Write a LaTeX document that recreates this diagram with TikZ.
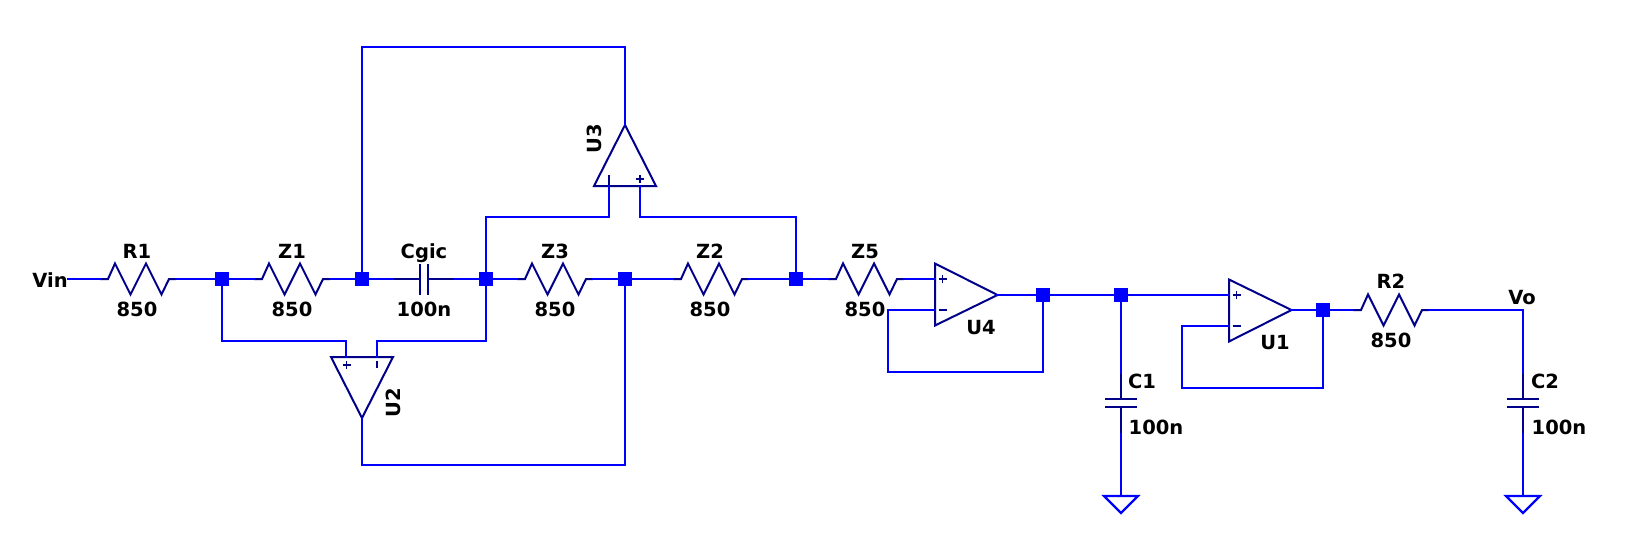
\documentclass[tikz,border=0pt]{standalone}
\usepackage{fontspec}
\setmainfont{DejaVu Sans}
\definecolor{wireblue}{RGB}{0,0,255}
\definecolor{partblue}{RGB}{0,0,139}
\tikzset{
  wire/.style={draw=wireblue,line width=2.2pt,line cap=rect},
  part/.style={draw=partblue,line width=2pt,line join=miter},
  sign/.style={draw=partblue,line width=1.8pt},
  junc/.style={rectangle,fill=wireblue,draw=none,minimum size=13.5pt,inner sep=0pt},
  lbl/.style={font=\bfseries\fontsize{19.5pt}{20pt}\selectfont,text=black,inner sep=0pt,text height=14.5pt,text depth=0pt},
}
% horizontal resistor: name, x of left lead end, y
\newcommand{\resH}[3]{%
  \coordinate (#1l) at (#2,#3);
  \coordinate (#1r) at (#2+76,#3);
  \draw[part] (#1l) -- ++(8,0) -- ++(7,-15.5) -- ++(15.5,31) -- ++(15.5,-31) -- ++(15.5,31) -- ++(7.5,-15.5) -- (#1r);
}
% horizontal op-amp: name, x of left edge, y of plus input, y of output
\newcommand{\opampR}[4]{%
  \coordinate (#1p) at (#2,#3);
  \coordinate (#1m) at (#2,#3+31);
  \coordinate (#1o) at (#2+62.5,#4);
  \draw[part] (#2,#3-15.5) -- (#1o) -- (#2,#3+46.5) -- cycle;
  \draw[sign] (#2+3.5,#3) -- ++(8,0) (#2+7.5,#3-4) -- ++(0,8) (#2+3.5,#3+31) -- ++(8,0);
}
% vertical capacitor: name, x, y of upper lead end
\newcommand{\capV}[3]{%
  \coordinate (#1t) at (#2,#3);
  \coordinate (#1b) at (#2,#3+61);
  \draw[part] (#1t) -- ++(0,26) (#2-16,#3+26) -- ++(32,0) (#2-16,#3+34) -- ++(32,0) (#2,#3+34) -- (#1b);
}
% ground: name, x, y of top
\newcommand{\gndT}[3]{%
  \coordinate (#1) at (#2,#3);
  \draw[wire,line cap=butt,line join=miter] (#2-17,#3) -- (#2+17,#3) -- (#2,#3+17) -- cycle;
}
\begin{document}
\begin{tikzpicture}[x=1pt,y=-1pt]
\fill[white] (0,0) rectangle (1627,542);
\useasboundingbox (0,0) rectangle (1627,542);

% junctions
\node[junc] (j1) at (222,279) {};
\node[junc] (j2) at (362,279) {};
\node[junc] (j3) at (486,279) {};
\node[junc] (j4) at (625,279) {};
\node[junc] (j5) at (796,279) {};
\node[junc] (j6) at (1043,295) {};
\node[junc] (j7) at (1121,295) {};
\node[junc] (j8) at (1323,310) {};

% free ends and bends
\coordinate (vin) at (68,279);
\coordinate (vo) at (1523,310);
\coordinate (a1) at (222,341);
\coordinate (a2) at (346,341);
\coordinate (a3) at (377,341);
\coordinate (a4) at (486,341);
\coordinate (b1) at (362,465);
\coordinate (b2) at (625,465);
\coordinate (t1) at (362,47);
\coordinate (t2) at (625,47);
\coordinate (c1) at (486,217);
\coordinate (c2) at (609,217);
\coordinate (c3) at (640,217);
\coordinate (c4) at (796,217);
\coordinate (f1) at (888,310);
\coordinate (f2) at (888,372);
\coordinate (f3) at (1043,372);
\coordinate (g1) at (1182,326);
\coordinate (g2) at (1182,388);
\coordinate (g3) at (1323,388);

% resistors
\resH{R1}{100}{279}
\resH{Z1}{254}{279}
\resH{Z3}{517}{279}
\resH{Z2}{673}{279}
\resH{Z5}{828}{279}
\resH{R2}{1353}{310}

% Cgic
\coordinate (cgl) at (393,279);
\coordinate (cgr) at (455,279);
\draw[part] (cgl) -- (420,279) (420,264) -- (420,295) (428,264) -- (428,295) (428,279) -- (cgr);

% U2 (points down)
\coordinate (u2p) at (346,357);
\coordinate (u2m) at (377,357);
\coordinate (u2o) at (362,418);
\draw[part] (331,357) -- (393,357) -- (u2o) -- cycle;
\draw[sign] (342.5,365) -- ++(8,0) (346.5,361) -- ++(0,8) (377,361) -- ++(0,7);

% U3 (points up)
\coordinate (u3m) at (609,186);
\coordinate (u3p) at (640,186);
\coordinate (u3o) at (625,125);
\draw[part] (594,186) -- (656,186) -- (u3o) -- cycle;
\draw[sign] (609,175) -- ++(0,11) (636,179) -- ++(8,0) (640,175) -- ++(0,8);

% U4, U1
\opampR{U4}{935}{279}{295}
\opampR{U1}{1229}{295}{310}

% C1, C2, grounds
\capV{C1}{1121}{373}
\capV{C2}{1523}{373}
\gndT{G1}{1121}{496}
\gndT{G2}{1523}{496}

% wires
\draw[wire] (vin) -- (R1l);
\draw[wire] (R1r) -- (j1.center) -- (Z1l);
\draw[wire] (Z1r) -- (j2.center) -- (cgl);
\draw[wire] (cgr) -- (j3.center) -- (Z3l);
\draw[wire] (Z3r) -- (j4.center) -- (Z2l);
\draw[wire] (Z2r) -- (j5.center) -- (Z5l);
\draw[wire] (Z5r) -- (U4p);
\draw[wire] (U4o) -- (j6.center) -- (j7.center) -- (U1p);
\draw[wire] (U1o) -- (j8.center) -- (R2l);
\draw[wire] (R2r) -- (vo) -- (C2t);
\draw[wire] (j1.center) -- (a1) -- (a2) -- (u2p);
\draw[wire] (u2m) -- (a3) -- (a4) -- (j3.center);
\draw[wire] (u2o) -- (b1) -- (b2) -- (j4.center);
\draw[wire] (j2.center) -- (t1) -- (t2) -- (u3o);
\draw[wire] (j3.center) -- (c1) -- (c2) -- (u3m);
\draw[wire] (u3p) -- (c3) -- (c4) -- (j5.center);
\draw[wire] (U4m) -- (f1) -- (f2) -- (f3) -- (j6.center);
\draw[wire] (U1m) -- (g1) -- (g2) -- (g3) -- (j8.center);
\draw[wire] (j7.center) -- (C1t);
\draw[wire] (C1b) -- (G1);
\draw[wire] (C2b) -- (G2);

% labels
\node[lbl] (lvin) at (50,280) {Vin};
\node[lbl] (lr1) at (137,251) {R1};
\node[lbl] (vr1) at (137,309) {850};
\node[lbl] (lz1) at (292,251) {Z1};
\node[lbl] (vz1) at (292,309) {850};
\node[lbl] (lcg) at (424,251) {Cgic};
\node[lbl] (vcg) at (424,309) {100n};
\node[lbl] (lz3) at (555,251) {Z3};
\node[lbl] (vz3) at (555,309) {850};
\node[lbl] (lz2) at (710,251) {Z2};
\node[lbl] (vz2) at (710,309) {850};
\node[lbl] (lz5) at (865,251) {Z5};
\node[lbl] (vz5) at (865,309) {850};
\node[lbl,rotate=90] (lu2) at (393,403) {U2};
\node[lbl,rotate=90] (lu3) at (594,139) {U3};
\node[lbl] (lu4) at (981,327) {U4};
\node[lbl] (lu1) at (1275,342) {U1};
\node[lbl] (lr2) at (1391,281) {R2};
\node[lbl] (vr2) at (1391,340) {850};
\node[lbl] (lvo) at (1522,297) {Vo};
\node[lbl] (lc1) at (1142,381) {C1};
\node[lbl] (vc1) at (1156,427) {100n};
\node[lbl] (lc2) at (1545,381) {C2};
\node[lbl] (vc2) at (1559,427) {100n};
\end{tikzpicture}
\end{document}
